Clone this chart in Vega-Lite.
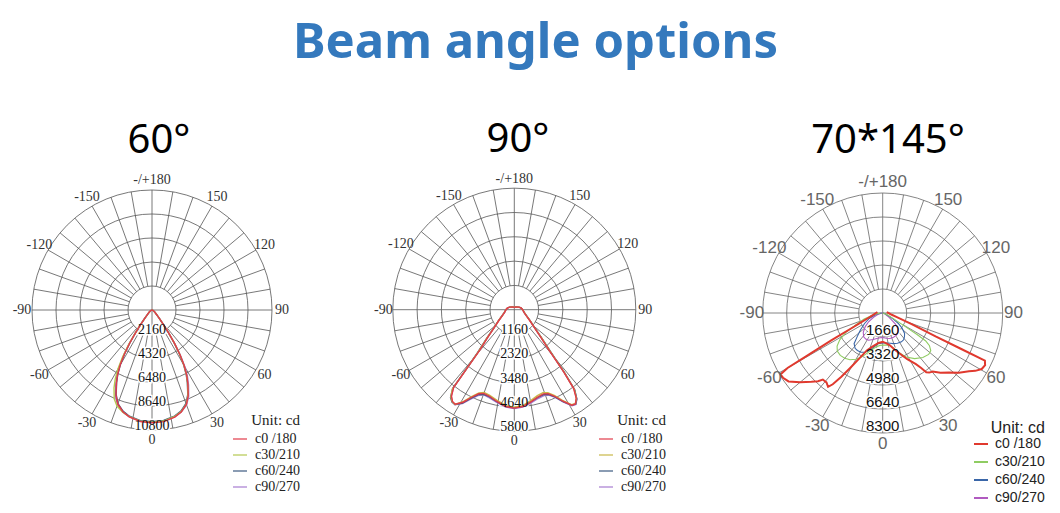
{
  "$schema": "https://vega.github.io/schema/vega-lite/v6.json",
  "background": "white",
  "padding": {"left": 0, "top": 18, "right": 0, "bottom": 0},
  "bounds": "flush",
  "spacing": 40,
  "title": {
    "text": "Beam angle options",
    "font": "Noto Sans",
    "fontSize": 49,
    "fontWeight": "bold",
    "color": "#3479bd",
    "anchor": "middle",
    "frame": "bounds",
    "offset": 52,
    "dx": 13
  },
  "config": {"view": {"stroke": null}},
  "resolve": {
    "scale": {"x": "independent", "y": "independent", "color": "independent", "size": "independent"},
    "legend": {"color": "independent"}
  },
  "datasets": {
    "spokes": [
      {"a": 0}, {"a": 10}, {"a": 20}, {"a": 30}, {"a": 40}, {"a": 50}, {"a": 60}, {"a": 70}, {"a": 80},
      {"a": 90}, {"a": 100}, {"a": 110}, {"a": 120}, {"a": 130}, {"a": 140}, {"a": 150}, {"a": 160}, {"a": 170},
      {"a": 180}, {"a": 190}, {"a": 200}, {"a": 210}, {"a": 220}, {"a": 230}, {"a": 240}, {"a": 250}, {"a": 260},
      {"a": 270}, {"a": 280}, {"a": 290}, {"a": 300}, {"a": 310}, {"a": 320}, {"a": 330}, {"a": 340}, {"a": 350}
    ],
    "angles": [
      {"a": 180, "t": "-/+180"}, {"a": 150, "t": "150"}, {"a": 120, "t": "120"}, {"a": 90, "t": "90"},
      {"a": 60, "t": "60"}, {"a": 30, "t": "30"}, {"a": 0, "t": "0"}, {"a": -30, "t": "-30"},
      {"a": -60, "t": "-60"}, {"a": -90, "t": "-90"}, {"a": -120, "t": "-120"}, {"a": -150, "t": "-150"}
    ],
    "rings60": [{"ring": 2160}, {"ring": 4320}, {"ring": 6480}, {"ring": 8640}, {"ring": 10800}],
    "rings90": [{"ring": 1160}, {"ring": 2320}, {"ring": 3480}, {"ring": 4640}, {"ring": 5800}],
    "rings145": [{"ring": 1660}, {"ring": 3320}, {"ring": 4980}, {"ring": 6640}, {"ring": 8300}],
    "beam60": [
      {"a": -90, "c0 /180": 0, "c30/210": 0, "c60/240": 0, "c90/270": 0},
      {"a": -75, "c0 /180": 40, "c30/210": 40, "c60/240": 40, "c90/270": 40},
      {"a": -62, "c0 /180": 150, "c30/210": 150, "c60/240": 150, "c90/270": 160},
      {"a": -52, "c0 /180": 330, "c30/210": 335, "c60/240": 320, "c90/270": 340},
      {"a": -45, "c0 /180": 590, "c30/210": 610, "c60/240": 580, "c90/270": 610},
      {"a": -41, "c0 /180": 990, "c30/210": 1020, "c60/240": 980, "c90/270": 1040},
      {"a": -38, "c0 /180": 1690, "c30/210": 1750, "c60/240": 1650, "c90/270": 1730},
      {"a": -36, "c0 /180": 2480, "c30/210": 2600, "c60/240": 2450, "c90/270": 2580},
      {"a": -34, "c0 /180": 3580, "c30/210": 3800, "c60/240": 3550, "c90/270": 3700},
      {"a": -32, "c0 /180": 4700, "c30/210": 5000, "c60/240": 4650, "c90/270": 4850},
      {"a": -30, "c0 /180": 5750, "c30/210": 6150, "c60/240": 5700, "c90/270": 5900},
      {"a": -28, "c0 /180": 6600, "c30/210": 7050, "c60/240": 6560, "c90/270": 6750},
      {"a": -26, "c0 /180": 7300, "c30/210": 7800, "c60/240": 7260, "c90/270": 7450},
      {"a": -23, "c0 /180": 8300, "c30/210": 8700, "c60/240": 8260, "c90/270": 8420},
      {"a": -20, "c0 /180": 9000, "c30/210": 9200, "c60/240": 8960, "c90/270": 9080},
      {"a": -16, "c0 /180": 9520, "c30/210": 9560, "c60/240": 9470, "c90/270": 9550},
      {"a": -12, "c0 /180": 9830, "c30/210": 9820, "c60/240": 9770, "c90/270": 9840},
      {"a": -6, "c0 /180": 10090, "c30/210": 10060, "c60/240": 10010, "c90/270": 10080},
      {"a": 0, "c0 /180": 10150, "c30/210": 10100, "c60/240": 10060, "c90/270": 10120},
      {"a": 6, "c0 /180": 10100, "c30/210": 10050, "c60/240": 10000, "c90/270": 10070},
      {"a": 12, "c0 /180": 9850, "c30/210": 9800, "c60/240": 9760, "c90/270": 9830},
      {"a": 16, "c0 /180": 9550, "c30/210": 9520, "c60/240": 9460, "c90/270": 9560},
      {"a": 20, "c0 /180": 9050, "c30/210": 9020, "c60/240": 8950, "c90/270": 9100},
      {"a": 23, "c0 /180": 8350, "c30/210": 8300, "c60/240": 8250, "c90/270": 8450},
      {"a": 26, "c0 /180": 7350, "c30/210": 7300, "c60/240": 7250, "c90/270": 7500},
      {"a": 28, "c0 /180": 6650, "c30/210": 6600, "c60/240": 6550, "c90/270": 6800},
      {"a": 30, "c0 /180": 5800, "c30/210": 5750, "c60/240": 5700, "c90/270": 5950},
      {"a": 32, "c0 /180": 4750, "c30/210": 4700, "c60/240": 4650, "c90/270": 4900},
      {"a": 34, "c0 /180": 3600, "c30/210": 3600, "c60/240": 3550, "c90/270": 3750},
      {"a": 36, "c0 /180": 2500, "c30/210": 2500, "c60/240": 2450, "c90/270": 2600},
      {"a": 38, "c0 /180": 1700, "c30/210": 1700, "c60/240": 1650, "c90/270": 1750},
      {"a": 41, "c0 /180": 1000, "c30/210": 1000, "c60/240": 980, "c90/270": 1050},
      {"a": 45, "c0 /180": 600, "c30/210": 600, "c60/240": 580, "c90/270": 620},
      {"a": 52, "c0 /180": 330, "c30/210": 330, "c60/240": 320, "c90/270": 340},
      {"a": 62, "c0 /180": 150, "c30/210": 150, "c60/240": 150, "c90/270": 160},
      {"a": 75, "c0 /180": 40, "c30/210": 40, "c60/240": 40, "c90/270": 40},
      {"a": 90, "c0 /180": 0, "c30/210": 0, "c60/240": 0, "c90/270": 0}
    ],
    "beam90": [
      {"a": -180, "c0 /180": 110, "c30/210": 110, "c60/240": 110, "c90/270": 110},
      {"a": -150, "c0 /180": 150, "c30/210": 150, "c60/240": 150, "c90/270": 150},
      {"a": -120, "c0 /180": 250, "c30/210": 250, "c60/240": 250, "c90/270": 250},
      {"a": -105, "c0 /180": 330, "c30/210": 330, "c60/240": 330, "c90/270": 330},
      {"a": -90, "c0 /180": 400, "c30/210": 400, "c60/240": 400, "c90/270": 400},
      {"a": -75, "c0 /180": 480, "c30/210": 490, "c60/240": 490, "c90/270": 480},
      {"a": -63, "c0 /180": 650, "c30/210": 660, "c60/240": 670, "c90/270": 660},
      {"a": -55, "c0 /180": 900, "c30/210": 920, "c60/240": 930, "c90/270": 910},
      {"a": -48, "c0 /180": 1300, "c30/210": 1330, "c60/240": 1350, "c90/270": 1320},
      {"a": -44, "c0 /180": 1800, "c30/210": 1860, "c60/240": 1900, "c90/270": 1850},
      {"a": -40.5, "c0 /180": 2550, "c30/210": 2650, "c60/240": 2700, "c90/270": 2620},
      {"a": -39, "c0 /180": 3500, "c30/210": 3600, "c60/240": 3650, "c90/270": 3550},
      {"a": -38, "c0 /180": 4700, "c30/210": 4800, "c60/240": 4780, "c90/270": 4720},
      {"a": -36, "c0 /180": 5100, "c30/210": 5150, "c60/240": 5180, "c90/270": 5120},
      {"a": -34, "c0 /180": 5280, "c30/210": 5300, "c60/240": 5320, "c90/270": 5300},
      {"a": -32, "c0 /180": 5320, "c30/210": 5330, "c60/240": 5340, "c90/270": 5350},
      {"a": -29, "c0 /180": 5050, "c30/210": 5000, "c60/240": 5100, "c90/270": 5120},
      {"a": -26, "c0 /180": 4650, "c30/210": 4600, "c60/240": 4700, "c90/270": 4750},
      {"a": -23, "c0 /180": 4360, "c30/210": 4320, "c60/240": 4400, "c90/270": 4450},
      {"a": -20, "c0 /180": 4250, "c30/210": 4200, "c60/240": 4300, "c90/270": 4320},
      {"a": -16, "c0 /180": 4300, "c30/210": 4250, "c60/240": 4320, "c90/270": 4370},
      {"a": -11, "c0 /180": 4450, "c30/210": 4400, "c60/240": 4460, "c90/270": 4500},
      {"a": -5, "c0 /180": 4640, "c30/210": 4600, "c60/240": 4630, "c90/270": 4670},
      {"a": 0, "c0 /180": 4700, "c30/210": 4650, "c60/240": 4680, "c90/270": 4720},
      {"a": 5, "c0 /180": 4640, "c30/210": 4600, "c60/240": 4630, "c90/270": 4670},
      {"a": 10, "c0 /180": 4480, "c30/210": 4420, "c60/240": 4470, "c90/270": 4530},
      {"a": 15, "c0 /180": 4320, "c30/210": 4250, "c60/240": 4330, "c90/270": 4390},
      {"a": 19, "c0 /180": 4250, "c30/210": 4190, "c60/240": 4290, "c90/270": 4340},
      {"a": 22, "c0 /180": 4320, "c30/210": 4270, "c60/240": 4360, "c90/270": 4400},
      {"a": 25, "c0 /180": 4560, "c30/210": 4510, "c60/240": 4590, "c90/270": 4620},
      {"a": 28, "c0 /180": 4950, "c30/210": 4900, "c60/240": 4970, "c90/270": 5000},
      {"a": 31, "c0 /180": 5320, "c30/210": 5290, "c60/240": 5310, "c90/270": 5350},
      {"a": 33, "c0 /180": 5360, "c30/210": 5350, "c60/240": 5380, "c90/270": 5400},
      {"a": 35, "c0 /180": 5150, "c30/210": 5170, "c60/240": 5200, "c90/270": 5210},
      {"a": 37, "c0 /180": 4700, "c30/210": 4760, "c60/240": 4800, "c90/270": 4760},
      {"a": 38.5, "c0 /180": 3750, "c30/210": 3850, "c60/240": 3900, "c90/270": 3820},
      {"a": 40.5, "c0 /180": 2600, "c30/210": 2700, "c60/240": 2750, "c90/270": 2680},
      {"a": 44, "c0 /180": 1800, "c30/210": 1860, "c60/240": 1900, "c90/270": 1850},
      {"a": 48, "c0 /180": 1300, "c30/210": 1330, "c60/240": 1350, "c90/270": 1320},
      {"a": 55, "c0 /180": 900, "c30/210": 920, "c60/240": 930, "c90/270": 910},
      {"a": 63, "c0 /180": 650, "c30/210": 660, "c60/240": 670, "c90/270": 660},
      {"a": 75, "c0 /180": 480, "c30/210": 490, "c60/240": 490, "c90/270": 480},
      {"a": 90, "c0 /180": 400, "c30/210": 400, "c60/240": 400, "c90/270": 400},
      {"a": 105, "c0 /180": 330, "c30/210": 330, "c60/240": 330, "c90/270": 330},
      {"a": 120, "c0 /180": 250, "c30/210": 250, "c60/240": 250, "c90/270": 250},
      {"a": 150, "c0 /180": 150, "c30/210": 150, "c60/240": 150, "c90/270": 150},
      {"a": 180, "c0 /180": 110, "c30/210": 110, "c60/240": 110, "c90/270": 110}
    ],
    "beam145": [
      {"s": "c90/270", "a": -90, "v": 50}, {"s": "c90/270", "a": -75, "v": 300}, {"s": "c90/270", "a": -65, "v": 700},
      {"s": "c90/270", "a": -58, "v": 1150}, {"s": "c90/270", "a": -52, "v": 1530}, {"s": "c90/270", "a": -45, "v": 1900},
      {"s": "c90/270", "a": -38.6, "v": 2110}, {"s": "c90/270", "a": -33, "v": 2150}, {"s": "c90/270", "a": -27.4, "v": 2120},
      {"s": "c90/270", "a": -20, "v": 1950}, {"s": "c90/270", "a": -13, "v": 1810}, {"s": "c90/270", "a": -6, "v": 1720},
      {"s": "c90/270", "a": 0, "v": 1690}, {"s": "c90/270", "a": 8, "v": 1760}, {"s": "c90/270", "a": 16, "v": 1830},
      {"s": "c90/270", "a": 24, "v": 1840}, {"s": "c90/270", "a": 32, "v": 1800}, {"s": "c90/270", "a": 38, "v": 1700},
      {"s": "c90/270", "a": 45, "v": 1500}, {"s": "c90/270", "a": 49, "v": 1150}, {"s": "c90/270", "a": 52.5, "v": 770},
      {"s": "c90/270", "a": 58, "v": 420}, {"s": "c90/270", "a": 68, "v": 150}, {"s": "c90/270", "a": 90, "v": 0},

      {"s": "c60/240", "a": -90, "v": 80}, {"s": "c60/240", "a": -78, "v": 500}, {"s": "c60/240", "a": -68, "v": 1000},
      {"s": "c60/240", "a": -60, "v": 1450}, {"s": "c60/240", "a": -52.6, "v": 1940}, {"s": "c60/240", "a": -47, "v": 2420},
      {"s": "c60/240", "a": -43, "v": 2900}, {"s": "c60/240", "a": -38, "v": 3100}, {"s": "c60/240", "a": -34, "v": 3130},
      {"s": "c60/240", "a": -29, "v": 3100}, {"s": "c60/240", "a": -24, "v": 2960}, {"s": "c60/240", "a": -17, "v": 2580},
      {"s": "c60/240", "a": -8, "v": 2140}, {"s": "c60/240", "a": 0, "v": 2080}, {"s": "c60/240", "a": 8, "v": 2100},
      {"s": "c60/240", "a": 14, "v": 2160}, {"s": "c60/240", "a": 19, "v": 2240}, {"s": "c60/240", "a": 26, "v": 2330},
      {"s": "c60/240", "a": 33, "v": 2380}, {"s": "c60/240", "a": 38, "v": 2350}, {"s": "c60/240", "a": 42.5, "v": 2230},
      {"s": "c60/240", "a": 47, "v": 2070}, {"s": "c60/240", "a": 52, "v": 1700}, {"s": "c60/240", "a": 56.5, "v": 1280},
      {"s": "c60/240", "a": 60, "v": 850}, {"s": "c60/240", "a": 64, "v": 430}, {"s": "c60/240", "a": 75, "v": 150},
      {"s": "c60/240", "a": 90, "v": 0},

      {"s": "c30/210", "a": -90, "v": 150}, {"s": "c30/210", "a": -80, "v": 600}, {"s": "c30/210", "a": -72, "v": 1350},
      {"s": "c30/210", "a": -66, "v": 2100}, {"s": "c30/210", "a": -62, "v": 2900}, {"s": "c30/210", "a": -58, "v": 3500},
      {"s": "c30/210", "a": -54, "v": 3900}, {"s": "c30/210", "a": -50, "v": 4100}, {"s": "c30/210", "a": -45, "v": 4150},
      {"s": "c30/210", "a": -40, "v": 4080}, {"s": "c30/210", "a": -35, "v": 3950}, {"s": "c30/210", "a": -30, "v": 3700},
      {"s": "c30/210", "a": -26, "v": 3400}, {"s": "c30/210", "a": -22, "v": 3050}, {"s": "c30/210", "a": -18, "v": 2740},
      {"s": "c30/210", "a": -12, "v": 2420}, {"s": "c30/210", "a": -5, "v": 2250}, {"s": "c30/210", "a": 0, "v": 2220},
      {"s": "c30/210", "a": 6, "v": 2230}, {"s": "c30/210", "a": 12.5, "v": 2300}, {"s": "c30/210", "a": 18, "v": 2600},
      {"s": "c30/210", "a": 23, "v": 3000}, {"s": "c30/210", "a": 28, "v": 3450}, {"s": "c30/210", "a": 35, "v": 3850},
      {"s": "c30/210", "a": 42, "v": 4150}, {"s": "c30/210", "a": 48, "v": 4280}, {"s": "c30/210", "a": 52, "v": 4220},
      {"s": "c30/210", "a": 55, "v": 3950}, {"s": "c30/210", "a": 57, "v": 3550}, {"s": "c30/210", "a": 58, "v": 2800},
      {"s": "c30/210", "a": 59, "v": 1800}, {"s": "c30/210", "a": 62, "v": 900}, {"s": "c30/210", "a": 70, "v": 300},
      {"s": "c30/210", "a": 90, "v": 0},

      {"s": "c0 /180", "a": -100, "v": 370}, {"s": "c0 /180", "a": -90, "v": 470}, {"s": "c0 /180", "a": -78, "v": 700},
      {"s": "c0 /180", "a": -71, "v": 1060}, {"s": "c0 /180", "a": -66, "v": 1800}, {"s": "c0 /180", "a": -64.5, "v": 2170},
      {"s": "c0 /180", "a": -62, "v": 4000}, {"s": "c0 /180", "a": -60.6, "v": 5900}, {"s": "c0 /180", "a": -60, "v": 7600},
      {"s": "c0 /180", "a": -59, "v": 8250}, {"s": "c0 /180", "a": -57, "v": 8220}, {"s": "c0 /180", "a": -54, "v": 8050},
      {"s": "c0 /180", "a": -50, "v": 7450}, {"s": "c0 /180", "a": -46, "v": 6850}, {"s": "c0 /180", "a": -43.5, "v": 6500},
      {"s": "c0 /180", "a": -42, "v": 6190}, {"s": "c0 /180", "a": -39, "v": 6180}, {"s": "c0 /180", "a": -36.5, "v": 6350},
      {"s": "c0 /180", "a": -35, "v": 6020}, {"s": "c0 /180", "a": -33, "v": 5250}, {"s": "c0 /180", "a": -30.5, "v": 4370},
      {"s": "c0 /180", "a": -27.5, "v": 3600}, {"s": "c0 /180", "a": -23, "v": 2810}, {"s": "c0 /180", "a": -17, "v": 2430},
      {"s": "c0 /180", "a": -8, "v": 2090}, {"s": "c0 /180", "a": 0, "v": 2000}, {"s": "c0 /180", "a": 6, "v": 2100},
      {"s": "c0 /180", "a": 12.5, "v": 2290}, {"s": "c0 /180", "a": 18, "v": 2650}, {"s": "c0 /180", "a": 23, "v": 3060},
      {"s": "c0 /180", "a": 28, "v": 3620}, {"s": "c0 /180", "a": 33, "v": 4220}, {"s": "c0 /180", "a": 35, "v": 4640},
      {"s": "c0 /180", "a": 36.3, "v": 5090}, {"s": "c0 /180", "a": 38, "v": 5230}, {"s": "c0 /180", "a": 40.5, "v": 5320},
      {"s": "c0 /180", "a": 44, "v": 5750}, {"s": "c0 /180", "a": 48, "v": 6160}, {"s": "c0 /180", "a": 52, "v": 6700},
      {"s": "c0 /180", "a": 56, "v": 7200}, {"s": "c0 /180", "a": 58, "v": 7550}, {"s": "c0 /180", "a": 60.5, "v": 7870},
      {"s": "c0 /180", "a": 63, "v": 7950}, {"s": "c0 /180", "a": 65, "v": 7800}, {"s": "c0 /180", "a": 65.4, "v": 5900},
      {"s": "c0 /180", "a": 66.1, "v": 4000}, {"s": "c0 /180", "a": 69, "v": 2180}, {"s": "c0 /180", "a": 74, "v": 1020},
      {"s": "c0 /180", "a": 79, "v": 640}, {"s": "c0 /180", "a": 90, "v": 400}, {"s": "c0 /180", "a": 100, "v": 280}
    ]
  },
  "hconcat": [
    {
      "width": 320,
      "height": 280,
      "title": {"text": "60°", "font": "Noto Sans", "fontSize": 40, "fontWeight": "normal", "color": "#000000", "anchor": "middle", "frame": "group", "offset": 12, "dx": -1},
      "encoding": {
        "x": {"field": "x", "type": "quantitative", "scale": {"domain": [-13680, 15120], "nice": false, "zero": false}, "axis": null},
        "y": {"field": "y", "type": "quantitative", "scale": {"domain": [-12870, 12330], "nice": false, "zero": false}, "axis": null}
      },
      "layer": [
        {
          "data": {"name": "rings60"},
          "transform": [{"calculate": "0", "as": "x"}, {"calculate": "0", "as": "y"}],
          "mark": {"type": "point", "shape": "circle", "filled": false, "stroke": "#555555", "strokeWidth": 0.8, "opacity": 1},
          "encoding": {
            "size": {"field": "ring", "type": "quantitative", "scale": {"type": "pow", "exponent": 2, "domain": [0, 10800], "range": [0, 57600], "zero": true}, "legend": null}
          }
        },
        {
          "data": {"name": "spokes"},
          "transform": [
            {"calculate": "datum.a % 90 == 0 ? 0 : 2160", "as": "r0"},
            {"calculate": "datum.r0 * sin(datum.a * PI / 180)", "as": "x"},
            {"calculate": "-datum.r0 * cos(datum.a * PI / 180)", "as": "y"},
            {"calculate": "10800 * sin(datum.a * PI / 180)", "as": "x2"},
            {"calculate": "-10800 * cos(datum.a * PI / 180)", "as": "y2"}
          ],
          "mark": {"type": "rule", "stroke": "#555555", "strokeWidth": 0.8},
          "encoding": {"x2": {"field": "x2"}, "y2": {"field": "y2"}}
        },
        {
          "data": {"name": "rings60"},
          "transform": [{"calculate": "0", "as": "x"}, {"calculate": "-datum.ring", "as": "y"}],
          "mark": {"type": "text", "font": "Liberation Serif", "fontSize": 14, "baseline": "alphabetic", "align": "center", "fill": "white", "stroke": "white", "strokeWidth": 3},
          "encoding": {"text": {"field": "ring", "type": "quantitative", "format": "d"}}
        },
        {
          "data": {"name": "beam60"},
          "transform": [
            {"fold": ["c90/270", "c60/240", "c30/210", "c0 /180"], "as": ["s", "v"]},
            {"calculate": "datum.v * sin(datum.a * PI / 180)", "as": "x"},
            {"calculate": "-datum.v * cos(datum.a * PI / 180)", "as": "y"}
          ],
          "mark": {"type": "line", "strokeWidth": 1.4},
          "encoding": {
            "order": {"field": "a", "type": "quantitative"},
            "color": {
              "field": "s", "type": "nominal",
              "scale": {"domain": ["c0 /180", "c30/210", "c60/240", "c90/270"], "range": ["#e23b4a", "#b4c850", "#3d5a80", "#a77cd0"]},
              "legend": {
                "title": "Unit: cd", "orient": "none", "legendX": 232, "legendY": 240,
                "symbolType": "stroke", "symbolSize": 196, "symbolStrokeWidth": 1.2,
                "labelFont": "Liberation Serif", "labelFontSize": 14, "labelColor": "#222222", "labelOffset": 7,
                "titleFont": "Liberation Serif", "titleFontSize": 15, "titleFontWeight": "normal", "titleColor": "#222222",
                "titleAnchor": "end", "titlePadding": 3, "rowPadding": 1
              }
            }
          }
        },
        {
          "data": {"name": "rings60"},
          "transform": [{"calculate": "0", "as": "x"}, {"calculate": "-datum.ring", "as": "y"}],
          "mark": {"type": "text", "font": "Liberation Serif", "fontSize": 14, "baseline": "alphabetic", "align": "center", "color": "#111111"},
          "encoding": {"text": {"field": "ring", "type": "quantitative", "format": "d"}}
        },
        {
          "data": {"name": "angles"},
          "transform": [
            {"calculate": "11700 * sin(datum.a * PI / 180)", "as": "x"},
            {"calculate": "-11700 * cos(datum.a * PI / 180)", "as": "y"}
          ],
          "mark": {"type": "text", "font": "Liberation Serif", "fontSize": 14, "baseline": "middle", "align": "center", "color": "#333333"},
          "encoding": {"text": {"field": "t", "type": "nominal"}}
        }
      ]
    },
    {
      "width": 320,
      "height": 280,
      "title": {"text": "90°", "font": "Noto Sans", "fontSize": 40, "fontWeight": "normal", "color": "#000000", "anchor": "middle", "frame": "group", "offset": 12, "dx": -2},
      "encoding": {
        "x": {"field": "x", "type": "quantitative", "scale": {"domain": [-7366, 7910], "nice": false, "zero": false}, "axis": null},
        "y": {"field": "y", "type": "quantitative", "scale": {"domain": [-6841, 6526], "nice": false, "zero": false}, "axis": null}
      },
      "layer": [
        {
          "data": {"name": "rings90"},
          "transform": [{"calculate": "0", "as": "x"}, {"calculate": "0", "as": "y"}],
          "mark": {"type": "point", "shape": "circle", "filled": false, "stroke": "#555555", "strokeWidth": 0.8, "opacity": 1},
          "encoding": {
            "size": {"field": "ring", "type": "quantitative", "scale": {"type": "pow", "exponent": 2, "domain": [0, 5800], "range": [0, 59049], "zero": true}, "legend": null}
          }
        },
        {
          "data": {"name": "spokes"},
          "transform": [
            {"calculate": "datum.a % 90 == 0 ? 0 : 1160", "as": "r0"},
            {"calculate": "datum.r0 * sin(datum.a * PI / 180)", "as": "x"},
            {"calculate": "-datum.r0 * cos(datum.a * PI / 180)", "as": "y"},
            {"calculate": "5800 * sin(datum.a * PI / 180)", "as": "x2"},
            {"calculate": "-5800 * cos(datum.a * PI / 180)", "as": "y2"}
          ],
          "mark": {"type": "rule", "stroke": "#555555", "strokeWidth": 0.8},
          "encoding": {"x2": {"field": "x2"}, "y2": {"field": "y2"}}
        },
        {
          "data": {"name": "rings90"},
          "transform": [{"calculate": "0", "as": "x"}, {"calculate": "-datum.ring", "as": "y"}],
          "mark": {"type": "text", "font": "Liberation Serif", "fontSize": 14, "baseline": "alphabetic", "align": "center", "fill": "white", "stroke": "white", "strokeWidth": 3},
          "encoding": {"text": {"field": "ring", "type": "quantitative", "format": "d"}}
        },
        {
          "data": {"name": "beam90"},
          "transform": [
            {"fold": ["c90/270", "c60/240", "c30/210", "c0 /180"], "as": ["s", "v"]},
            {"calculate": "datum.v * sin(datum.a * PI / 180)", "as": "x"},
            {"calculate": "-datum.v * cos(datum.a * PI / 180)", "as": "y"}
          ],
          "mark": {"type": "line", "strokeWidth": 1.4},
          "encoding": {
            "order": {"field": "a", "type": "quantitative"},
            "color": {
              "field": "s", "type": "nominal",
              "scale": {"domain": ["c0 /180", "c30/210", "c60/240", "c90/270"], "range": ["#e23b4a", "#c8b848", "#3d5a80", "#a77cd0"]},
              "legend": {
                "title": "Unit: cd", "orient": "none", "legendX": 238, "legendY": 240,
                "symbolType": "stroke", "symbolSize": 196, "symbolStrokeWidth": 1.2,
                "labelFont": "Liberation Serif", "labelFontSize": 14, "labelColor": "#222222", "labelOffset": 7,
                "titleFont": "Liberation Serif", "titleFontSize": 15, "titleFontWeight": "normal", "titleColor": "#222222",
                "titleAnchor": "end", "titlePadding": 3, "rowPadding": 1
              }
            }
          }
        },
        {
          "data": {"name": "rings90"},
          "transform": [{"calculate": "0", "as": "x"}, {"calculate": "-datum.ring", "as": "y"}],
          "mark": {"type": "text", "font": "Liberation Serif", "fontSize": 14, "baseline": "alphabetic", "align": "center", "color": "#111111"},
          "encoding": {"text": {"field": "ring", "type": "quantitative", "format": "d"}}
        },
        {
          "data": {"name": "angles"},
          "transform": [
            {"calculate": "6250 * sin(datum.a * PI / 180)", "as": "x"},
            {"calculate": "-6250 * cos(datum.a * PI / 180)", "as": "y"}
          ],
          "mark": {"type": "text", "font": "Liberation Serif", "fontSize": 14, "baseline": "middle", "align": "center", "color": "#333333"},
          "encoding": {"text": {"field": "t", "type": "nominal"}}
        }
      ]
    },
    {
      "width": 320,
      "height": 280,
      "title": {"text": "70*145°", "font": "Noto Sans", "fontSize": 40, "fontWeight": "normal", "color": "#000000", "anchor": "middle", "frame": "group", "offset": 12, "dx": 8},
      "encoding": {
        "x": {"field": "x", "type": "quantitative", "scale": {"domain": [-11253, 10880], "nice": false, "zero": false}, "axis": null},
        "y": {"field": "y", "type": "quantitative", "scale": {"domain": [-9683, 9683], "nice": false, "zero": false}, "axis": null}
      },
      "layer": [
        {
          "data": {"name": "rings145"},
          "transform": [{"calculate": "0", "as": "x"}, {"calculate": "0", "as": "y"}],
          "mark": {"type": "point", "shape": "circle", "filled": false, "stroke": "#666666", "strokeWidth": 0.8, "opacity": 1},
          "encoding": {
            "size": {"field": "ring", "type": "quantitative", "scale": {"type": "pow", "exponent": 2, "domain": [0, 8300], "range": [0, 57600], "zero": true}, "legend": null}
          }
        },
        {
          "data": {"name": "spokes"},
          "transform": [
            {"calculate": "datum.a % 90 == 0 ? 0 : 1660", "as": "r0"},
            {"calculate": "datum.r0 * sin(datum.a * PI / 180)", "as": "x"},
            {"calculate": "-datum.r0 * cos(datum.a * PI / 180)", "as": "y"},
            {"calculate": "8300 * sin(datum.a * PI / 180)", "as": "x2"},
            {"calculate": "-8300 * cos(datum.a * PI / 180)", "as": "y2"}
          ],
          "mark": {"type": "rule", "stroke": "#666666", "strokeWidth": 0.8},
          "encoding": {"x2": {"field": "x2"}, "y2": {"field": "y2"}}
        },
        {
          "data": {"name": "rings145"},
          "transform": [{"calculate": "0", "as": "x"}, {"calculate": "-datum.ring", "as": "y"}],
          "mark": {"type": "text", "font": "Liberation Sans", "fontSize": 15, "baseline": "alphabetic", "align": "center", "dy": -2, "fill": "white", "stroke": "white", "strokeWidth": 3},
          "encoding": {"text": {"field": "ring", "type": "quantitative", "format": "d"}}
        },
        {
          "data": {"name": "beam145"},
          "transform": [
            {"filter": "datum.s != 'c0 /180'"},
            {"calculate": "datum.v * sin(datum.a * PI / 180)", "as": "x"},
            {"calculate": "-datum.v * cos(datum.a * PI / 180)", "as": "y"}
          ],
          "mark": {"type": "line", "strokeWidth": 1.1},
          "encoding": {
            "order": {"field": "a", "type": "quantitative"},
            "color": {
              "field": "s", "type": "nominal",
              "scale": {"domain": ["c0 /180", "c30/210", "c60/240", "c90/270"], "range": ["#e0392e", "#8fcc62", "#3a66a8", "#b05ac0"]},
              "legend": {
                "title": "Unit: cd", "orient": "none", "legendX": 253, "legendY": 247,
                "symbolType": "stroke", "symbolSize": 196, "symbolStrokeWidth": 2,
                "labelFont": "Liberation Sans", "labelFontSize": 14, "labelColor": "#222222", "labelOffset": 6,
                "titleFont": "Liberation Sans", "titleFontSize": 16, "titleFontWeight": "normal", "titleColor": "#222222",
                "titleAnchor": "end", "titlePadding": 0, "rowPadding": 3
              }
            }
          }
        },
        {
          "data": {"name": "beam145"},
          "transform": [
            {"filter": "datum.s == 'c0 /180'"},
            {"calculate": "datum.v * sin(datum.a * PI / 180)", "as": "x"},
            {"calculate": "-datum.v * cos(datum.a * PI / 180)", "as": "y"}
          ],
          "mark": {"type": "line", "strokeWidth": 2},
          "encoding": {
            "order": {"field": "a", "type": "quantitative"},
            "color": {"field": "s", "type": "nominal"}
          }
        },
        {
          "data": {"name": "rings145"},
          "transform": [{"calculate": "0", "as": "x"}, {"calculate": "-datum.ring", "as": "y"}],
          "mark": {"type": "text", "font": "Liberation Sans", "fontSize": 15, "baseline": "alphabetic", "align": "center", "dy": -2, "color": "#111111"},
          "encoding": {"text": {"field": "ring", "type": "quantitative", "format": "d"}}
        },
        {
          "data": {"name": "angles"},
          "transform": [
            {"calculate": "9050 * sin(datum.a * PI / 180)", "as": "x"},
            {"calculate": "-9050 * cos(datum.a * PI / 180)", "as": "y"}
          ],
          "mark": {"type": "text", "font": "Liberation Sans", "fontSize": 17, "baseline": "middle", "align": "center", "color": "#666666"},
          "encoding": {"text": {"field": "t", "type": "nominal"}}
        }
      ]
    }
  ]
}
